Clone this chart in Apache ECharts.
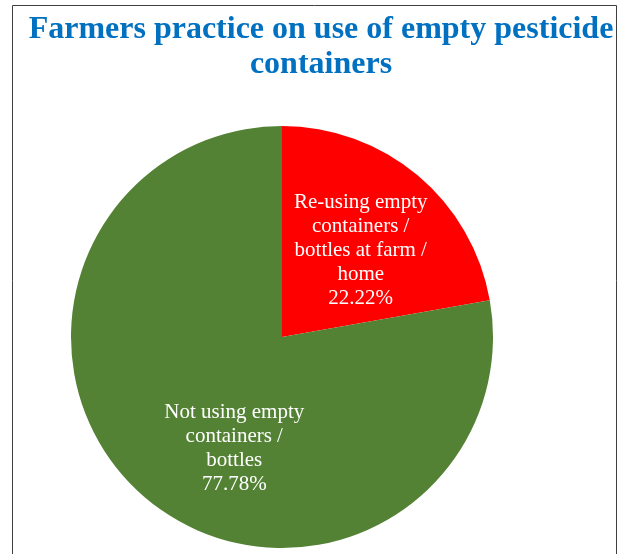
<!DOCTYPE html>
<html><head><meta charset="utf-8">
<style>html,body{margin:0;padding:0;background:#fff;}#c{width:622px;height:554px;}</style>
<script src="https://cdn.jsdelivr.net/npm/echarts@6/dist/echarts.min.js"></script>
</head><body><div id="c"></div>
<script>
const titleText = 'Farmers practice on use of empty pesticide\ncontainers';
const categories = ['Re-using empty\ncontainers /\nbottles at farm /\nhome', 'Not using empty\ncontainers /\nbottles'];
const values = [22.22, 77.78];
const colors = ['#FF0000', '#548235'];
const labelShift = [[9, -3], [22, 28]];

const chart = echarts.init(document.getElementById('c'));
chart.setOption({
  backgroundColor: '#fff',
  animation: false,
  graphic: [{
    type: 'rect', shape: {x: 12.5, y: 5.5, width: 604, height: 560},
    style: {fill: 'none', stroke: '#404040', lineWidth: 1}, silent: true, z: -1
  }],
  title: {
    text: titleText, left: 316, top: 7, textAlign: 'center',
    textStyle: {fontFamily: 'Liberation Serif', fontWeight: 'bold', fontSize: 32, color: '#0070C0', lineHeight: 35}
  },
  series: [{
    type: 'pie', center: [282, 337], radius: 211, startAngle: 90, clockwise: true,
    data: categories.map((n, i) => ({name: n, value: values[i], itemStyle: {color: colors[i]}})),
    label: {
      position: 'inside', color: '#fff', fontFamily: 'Liberation Serif', fontSize: 21, lineHeight: 24,
      formatter: p => p.name + '\n' + p.value.toFixed(2) + '%'
    },
    labelLayout: p => ({dx: labelShift[p.dataIndex][0], dy: labelShift[p.dataIndex][1]}),
    labelLine: {show: false}
  }]
});
</script></body></html>
